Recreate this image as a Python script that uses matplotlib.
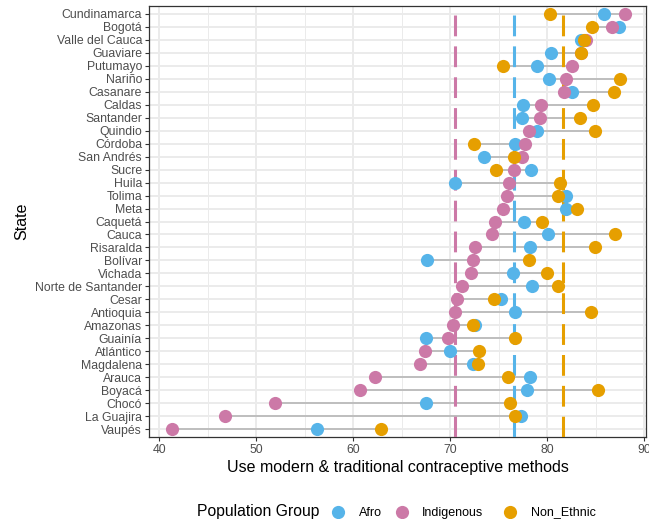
import numpy as np
import matplotlib
matplotlib.use("Agg")
import matplotlib.pyplot as plt
from matplotlib.lines import Line2D

plt.rcParams['font.family'] = ['Liberation Sans', 'DejaVu Sans']

# states, top to bottom
states = ["Cundinamarca", "Bogotá", "Valle del Cauca", "Guaviare", "Putumayo", "Nariño",
          "Casanare", "Caldas", "Santander", "Quindio", "Córdoba", "San Andrés", "Sucre",
          "Huila", "Tolima", "Meta", "Caquetá", "Cauca", "Risaralda", "Bolívar", "Vichada",
          "Norte de Santander", "Cesar", "Antioquia", "Amazonas", "Guainía", "Atlántico",
          "Magdalena", "Arauca", "Boyacá", "Chocó", "La Guajira", "Vaupés"]

afro = [85.9, 87.4, 83.5, 80.4, 79.0, 80.2, 82.6, 77.5, 77.45, 79.0, 76.7, 73.5, 78.35,
        70.5, 81.9, 81.9, 77.6, 80.1, 78.2, 67.6, 76.5, 78.45, 75.2, 76.7, 72.6, 67.5,
        70.0, 72.4, 78.2, 77.9, 67.5, 77.3, 56.3]
indigenous = [88.0, 86.7, 84.0, 83.5, 82.6, 81.9, 81.75, 79.35, 79.25, 78.1, 77.7, 77.45, 76.6,
              76.05, 75.9, 75.5, 74.6, 74.3, 72.6, 72.4, 72.2, 71.2, 70.7, 70.55, 70.3, 69.8,
              67.4, 66.9, 62.3, 60.7, 51.9, 46.8, 41.3]
non_ethnic = [80.3, 84.6, 83.85, 83.5, 75.4, 87.5, 86.9, 84.7, 83.4, 84.9, 72.5, 76.6, 74.7,
              81.3, 81.1, 83.1, 79.5, 87.0, 84.95, 78.1, 80.0, 81.1, 74.5, 84.5, 72.4, 76.7,
              73.0, 72.9, 76.0, 85.3, 76.2, 76.7, 62.9]

# group means (dashed lines)
mean_afro = 76.55
mean_indigenous = 70.55
mean_non_ethnic = 81.68

groups = ["Afro", "Indigenous", "Non_Ethnic"]
c_afro = "#56B4E9"
c_ind = "#CC79A7"
c_non = "#E69F00"

fig = plt.figure(figsize=(6.49, 5.19), dpi=100)
ax = fig.add_axes([149 / 649, 1 - 437 / 519, (646 - 149) / 649, (437 - 6) / 519])

y = np.arange(len(states))
vals = np.array([afro, indigenous, non_ethnic])
lo = vals.min(axis=0)
hi = vals.max(axis=0)

ax.hlines(y, lo, hi, color="#BEBEBE", lw=1.4, zorder=2)

for m, c in [(mean_indigenous, c_ind), (mean_afro, c_afro), (mean_non_ethnic, c_non)]:
    ax.axvline(m, color=c, lw=2.2, dashes=(6.8, 3.3), zorder=3)

ax.scatter(afro, y, s=90, color=c_afro, zorder=4, linewidths=0)
ax.scatter(indigenous, y, s=90, color=c_ind, zorder=4, linewidths=0)
ax.scatter(non_ethnic, y, s=90, color=c_non, zorder=4, linewidths=0)

ax.set_xlim(38.94, 90.2)
ax.set_ylim(len(states) - 1 + 0.6, -0.6)
ax.set_yticks(y)
ax.set_yticklabels(states)
ax.set_xticks([40, 50, 60, 70, 80, 90])
ax.set_xticks([45, 55, 65, 75, 85], minor=True)

ax.grid(which="major", color="#EBEBEB", lw=1.4)
ax.grid(which="minor", axis="x", color="#EBEBEB", lw=0.7)
ax.set_axisbelow(True)
ax.tick_params(which="major", length=3, width=0.8, color="#333333",
               labelsize=8.8, labelcolor="#4D4D4D", pad=2)
ax.tick_params(which="minor", length=0)
for s in ax.spines.values():
    s.set_color("#333333")
    s.set_linewidth(0.9)

ax.set_xlabel("Use modern & traditional contraceptive methods", fontsize=11.5, labelpad=3)
ax.set_ylabel("State", fontsize=11.5, labelpad=4)

# legend laid out in one row at the bottom, title on the left
ly = 1 - 511.5 / 519
fig.text(197 / 649, ly, "Population Group", fontsize=11.3, va="center", ha="left")
for name, c, mx, tx in zip(groups, (c_afro, c_ind, c_non), (338, 402, 510), (359, 422, 531)):
    fig.add_artist(Line2D([mx / 649], [ly], transform=fig.transFigure, marker="o", ls="",
                          color=c, markersize=9.5, markeredgewidth=0))
    fig.text(tx / 649, ly - 0.002, name, fontsize=9, va="center", ha="left")

fig.savefig("out.png", dpi=100)
